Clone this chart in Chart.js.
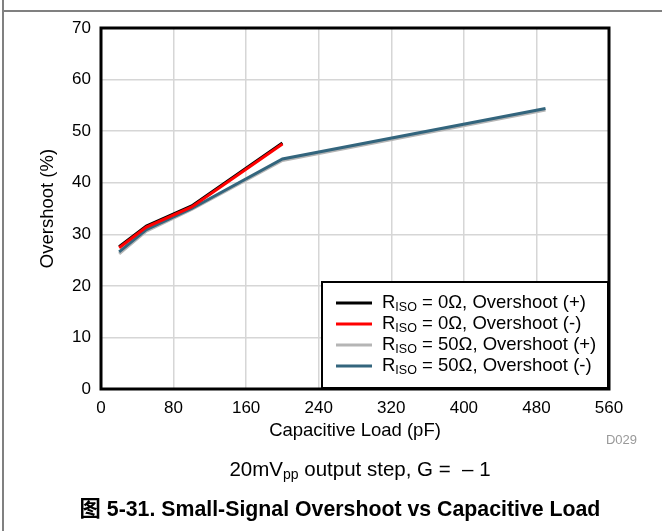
<!DOCTYPE html>
<html>
<head>
<meta charset="utf-8">
<title>Small-Signal Overshoot vs Capacitive Load</title>
<script src="https://cdn.jsdelivr.net/npm/chart.js@4.4.1/dist/chart.umd.min.js"></script>
<style>
  html, body { margin: 0; padding: 0; background: #fff; }
  #wrap { width: 662px; height: 531px; }
</style>
</head>
<body>
<div id="wrap"><canvas id="osChart" width="662" height="531"></canvas></div>
<script>
// Capacitive load (pF) for each curve
const loadRiso0 = [20, 50, 100, 200];
const loadRiso50 = [20, 50, 100, 200, 490];

// Overshoot (%)
const osRiso0Pos = [27.6, 31.6, 35.5, 47.7];
const osRiso0Neg = [27.4, 31.4, 35.3, 47.5];
const osRiso50Pos = [26.2, 30.6, 34.8, 44.3, 54.1];
const osRiso50Neg = [26.6, 30.9, 35.0, 44.6, 54.4];

// Axis ticks
const xTicks = [0, 80, 160, 240, 320, 400, 480, 560];
const yTicks = [0, 10, 20, 30, 40, 50, 60, 70];

// Legend labels: R + subscript + rest
const seriesRest = [
  ' = 0\u03A9, Overshoot (+)',
  ' = 0\u03A9, Overshoot (-)',
  ' = 50\u03A9, Overshoot (+)',
  ' = 50\u03A9, Overshoot (-)'
];
const seriesColors = ['#000000', '#ff0000', '#b5b5b5', '#33657d'];

const FONT = '"Liberation Sans", Arial, "Noto Sans CJK SC", sans-serif';
Chart.defaults.font.family = FONT;
Chart.defaults.color = '#000';

function toPoints(xs, ys) {
  return xs.map((x, i) => ({ x: x, y: ys[i] }));
}

// draw a run of [text, size, dy] pieces centred on cx
function drawRuns(c, parts, cx, y) {
  let total = 0;
  parts.forEach(p => { c.font = p[1] + ' ' + FONT; total += c.measureText(p[0]).width; });
  let x = cx - total / 2;
  parts.forEach(p => {
    c.font = p[1] + ' ' + FONT;
    c.fillText(p[0], x, y + p[2]);
    x += c.measureText(p[0]).width;
  });
}

// page frame, plot border, legend and captions
const decorPlugin = {
  id: 'decor',
  beforeDraw(chart) {
    const c = chart.ctx;
    c.save();
    c.strokeStyle = '#808080';
    c.lineWidth = 2;
    c.beginPath();
    c.moveTo(3, 11); c.lineTo(662, 11);
    c.moveTo(3, 0); c.lineTo(3, 531);
    c.stroke();
    c.restore();
  },
  beforeDatasetsDraw(chart) {
    const a = chart.chartArea;
    const c = chart.ctx;
    c.save();
    c.strokeStyle = '#000';
    c.lineWidth = 3;
    c.strokeRect(a.left, a.top, a.right - a.left, a.bottom - a.top);
    c.restore();
  },
  afterDatasetsDraw(chart) {
    const c = chart.ctx;
    c.save();
    // legend box
    c.fillStyle = '#fff';
    c.fillRect(322, 282, 286, 106);
    c.strokeStyle = '#000';
    c.lineWidth = 2;
    c.strokeRect(322, 282, 286, 106);
    chart.data.datasets.forEach((ds, i) => {
      const y = 303 + 21 * i;
      c.strokeStyle = ds.borderColor;
      c.lineWidth = 3;
      c.beginPath();
      c.moveTo(336, y); c.lineTo(372, y);
      c.stroke();
      c.fillStyle = '#000';
      c.textBaseline = 'middle';
      c.textAlign = 'left';
      let x = 382;
      c.font = '18.5px ' + FONT;
      c.fillText('R', x, y);
      x += c.measureText('R').width;
      c.font = '12.5px ' + FONT;
      c.fillText('ISO', x, y + 5);
      x += c.measureText('ISO').width;
      c.font = '18.5px ' + FONT;
      c.fillText(seriesRest[i], x, y);
    });

    // figure id
    c.fillStyle = '#999';
    c.font = '13px ' + FONT;
    c.textAlign = 'right';
    c.fillText('D029', 637, 440);

    // test condition line
    c.fillStyle = '#000';
    c.textAlign = 'left';
    drawRuns(c, [
      ['20mV', '20.5px', 0],
      ['pp', '14px', 5],
      [' output step, G =  \u2013 1', '20.5px', 0]
    ], 360, 470);

    // figure caption
    c.font = 'bold 21.3px ' + FONT;
    c.textAlign = 'center';
    c.fillText('\u56FE 5-31. Small-Signal Overshoot vs Capacitive Load', 340, 510);
    c.restore();
  }
};

const gridColor = '#d6d6d6';

new Chart(document.getElementById('osChart'), {
  type: 'scatter',
  data: {
    datasets: [
      { label: 'RISO' + seriesRest[0], data: toPoints(loadRiso0, osRiso0Pos), borderColor: seriesColors[0], order: 1 },
      { label: 'RISO' + seriesRest[1], data: toPoints(loadRiso0, osRiso0Neg), borderColor: seriesColors[1], order: 0 },
      { label: 'RISO' + seriesRest[2], data: toPoints(loadRiso50, osRiso50Pos), borderColor: seriesColors[2], order: 3 },
      { label: 'RISO' + seriesRest[3], data: toPoints(loadRiso50, osRiso50Neg), borderColor: seriesColors[3], order: 2 }
    ].map(ds => Object.assign(ds, {
      showLine: true,
      borderWidth: 3,
      pointRadius: 0,
      fill: false,
      tension: 0
    }))
  },
  options: {
    responsive: false,
    animation: false,
    events: [],
    layout: { padding: { left: 0, top: 28, right: 53, bottom: 0 } },
    plugins: {
      legend: { display: false },
      tooltip: { enabled: false }
    },
    scales: {
      x: {
        type: 'linear',
        min: xTicks[0],
        max: xTicks[xTicks.length - 1],
        afterBuildTicks: s => { s.ticks = xTicks.map(v => ({ value: v })); },
        afterFit: s => { s.height = 142; },
        ticks: { padding: 9, font: { size: 17 }, color: '#000' },
        grid: { color: gridColor, lineWidth: 1.5, drawTicks: false },
        border: { display: false },
        title: {
          display: true,
          text: 'Capacitive Load (pF)',
          font: { size: 18.5 },
          color: '#000',
          padding: { top: 0, bottom: 89 }
        }
      },
      y: {
        min: yTicks[0],
        max: yTicks[yTicks.length - 1],
        afterBuildTicks: s => { s.ticks = yTicks.map(v => ({ value: v })); },
        afterFit: s => { s.width = 101; },
        ticks: { padding: 10, font: { size: 17 }, color: '#000' },
        grid: { color: gridColor, lineWidth: 1.5, drawTicks: false },
        border: { display: false },
        title: {
          display: true,
          text: 'Overshoot (%)',
          font: { size: 18.5 },
          color: '#000',
          padding: { top: 37, bottom: 0 }
        }
      }
    }
  },
  plugins: [decorPlugin]
});
</script>
</body>
</html>
